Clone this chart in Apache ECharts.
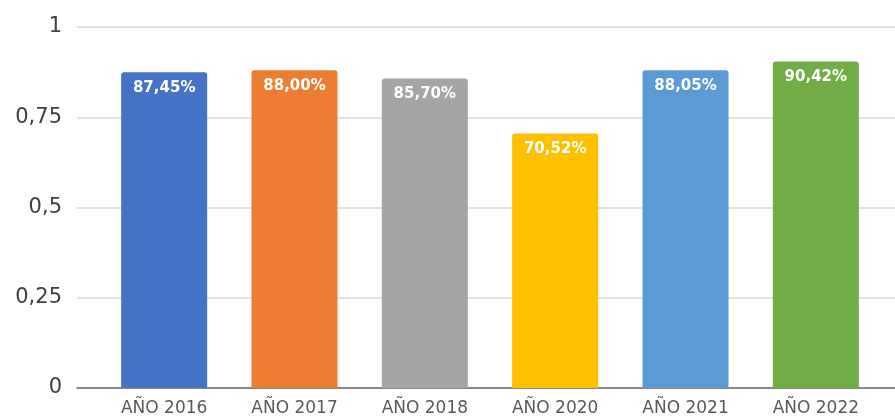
<!DOCTYPE html>
<html>
<head>
<meta charset="utf-8">
<script src="https://cdn.jsdelivr.net/npm/echarts@6/dist/echarts.min.js"></script>
<style>
  html, body { margin: 0; padding: 0; background: #fff; }
  #chart { width: 895px; height: 417px; }
</style>
</head>
<body>
<div id="chart"></div>
<script>
const years = ["AÑO 2016", "AÑO 2017", "AÑO 2018", "AÑO 2020", "AÑO 2021", "AÑO 2022"];
const rates = [0.8745, 0.88, 0.857, 0.7052, 0.8805, 0.9042];
const barColors = ["#4472C4", "#ED7D31", "#A5A5A5", "#FFC000", "#5B9BD5", "#70AD47"];
const yTicks = [0, 0.25, 0.5, 0.75, 1];

const comma = v => String(v).replace(".", ",");

var myChart = echarts.init(document.getElementById("chart"));

myChart.setOption({
  animation: false,
  grid: [
    // fondo: eje y, líneas de cuadrícula y línea base
    { left: 77, right: 0, top: 27, bottom: 29 },
    // barras
    { left: 99, right: 14, top: 27, bottom: 29 }
  ],
  xAxis: [
    {
      gridIndex: 0,
      type: "category",
      data: years,
      axisLine: { lineStyle: { color: "#6b6b6b", width: 1.5 } },
      axisTick: { show: false },
      axisLabel: { show: false }
    },
    {
      gridIndex: 1,
      type: "category",
      data: years,
      axisLine: { show: false },
      axisTick: { show: false },
      axisLabel: {
        color: "#595959",
        fontFamily: "DejaVu Sans",
        fontSize: 17,
        margin: 12
      }
    }
  ],
  yAxis: [
    {
      gridIndex: 0,
      type: "value",
      min: yTicks[0],
      max: yTicks[yTicks.length - 1],
      interval: 0.25,
      axisLine: { show: false },
      axisTick: { show: false },
      splitLine: { lineStyle: { color: "#d9d9d9", width: 1.5 } },
      axisLabel: {
        color: "#404040",
        fontFamily: "DejaVu Sans",
        fontSize: 21,
        margin: 15,
        formatter: v => comma(v)
      }
    },
    {
      gridIndex: 1,
      type: "value",
      min: yTicks[0],
      max: yTicks[yTicks.length - 1],
      show: false
    }
  ],
  series: [
    {
      type: "bar",
      xAxisIndex: 1,
      yAxisIndex: 1,
      barWidth: 86,
      data: rates.map((v, i) => ({
        value: v,
        itemStyle: { color: barColors[i], borderRadius: [3, 3, 0, 0] }
      })),
      label: {
        show: true,
        position: "insideTop",
        distance: 8,
        color: "#fff",
        fontFamily: "DejaVu Sans",
        fontWeight: "bold",
        fontSize: 15,
        formatter: p => (p.value * 100).toFixed(2).replace(".", ",") + "%"
      }
    }
  ]
});
</script>
</body>
</html>
